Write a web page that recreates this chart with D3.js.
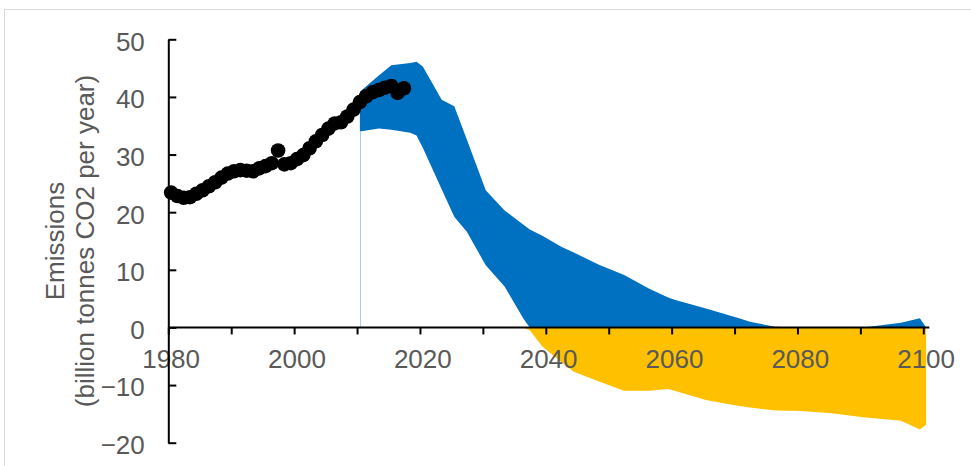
<!DOCTYPE html>
<html>
<head>
<meta charset="utf-8">
<script src="https://cdn.jsdelivr.net/npm/d3@7"></script>
<style>
  html, body { margin: 0; padding: 0; background: #fff; }
  svg { display: block; font-family: "Liberation Sans", Arial, sans-serif; }
</style>
</head>
<body>
<svg id="chart" width="971" height="466"></svg>
<script>
// Historical global CO2 emissions (billion tonnes CO2 per year)
const histYears = [1980,1981,1982,1983,1984,1985,1986,1987,1988,1989,
                   1990,1991,1992,1993,1994,1995,1996,1997,1998,1999,
                   2000,2001,2002,2003,2004,2005,2006,2007,2008,2009,
                   2010,2011,2012,2013,2014,2015,2016,2017];
const histValues = [23.4,22.8,22.5,22.6,23.2,23.8,24.5,25.2,26.0,26.7,
                    27.1,27.3,27.2,27.1,27.6,28.0,28.5,30.7,28.3,28.5,
                    29.2,29.9,31.1,32.3,33.4,34.5,35.4,35.6,36.6,37.8,
                    39.1,40.1,40.8,41.2,41.6,41.9,40.7,41.5];

// Scenario range: upper and lower bounds of the emission pathways
const bandYears = [2010,2013,2015,2018,2019,2020,2023,2025,2027,2030,
                   2033,2036,2037,2039,2042,2044,2048,2052,2056,2059,
                   2060,2065,2070,2072,2076,2080,2085,2090,2096,2099,2100];
const bandUpper = [40.9,43.7,45.5,45.9,46.1,45.3,39.5,38.4,32.6,23.8,
                   20.3,17.8,17.0,15.9,14.0,13.0,10.9,9.1,6.7,5.2,
                   4.8,3.3,1.7,1.0,0.1,0,0,0,0.8,1.6,0];
const bandLower = [34.0,34.5,34.3,33.8,33.3,31.2,24.0,19.2,16.6,10.8,
                   7.1,1.5,-0.5,-3.3,-6.0,-7.7,-9.4,-11.0,-11.0,-10.7,
                   -11.0,-12.6,-13.6,-13.9,-14.4,-14.5,-14.9,-15.6,-16.2,-17.7,-16.9];

// Axis ticks
const xTicks = [1980,1990,2000,2010,2020,2030,2040,2050,2060,2070,2080,2090,2100];
const xLabels = [1980,2000,2020,2040,2060,2080,2100];
const yTicks = [-20,-10,0,10,20,30,40,50];

const yTitle = ["Emissions", "(billion tonnes CO2 per year)"];

const svg = d3.select("#chart");
const textColor = "#595959";
const fontSize = 26;

// Scales
const x = d3.scaleLinear().domain([1980, 2100]).range([168.3, 923.3]);
const y = d3.scaleLinear().domain([-20, 50]).range([442.7, 39.3]);
// category points sit slightly right of their tick marks
const shift = 0.45;
const xp = yr => x(yr + shift);

// Outer frame
svg.append("rect")
  .attr("x", 4.5).attr("y", 9.5)
  .attr("width", 1000).attr("height", 1000)
  .attr("fill", "none").attr("stroke", "#d9d9d9").attr("stroke-width", 1);

const band = bandYears.map((yr, i) => ({ yr, hi: bandUpper[i], lo: bandLower[i] }));

// Positive part of the range (blue)
const posArea = d3.area()
  .x(d => xp(d.yr))
  .y0(d => y(Math.max(d.lo, 0)))
  .y1(d => y(Math.max(d.hi, 0)));
svg.append("path").datum(band).attr("d", posArea).attr("fill", "#0070C0");

// Negative part of the range (yellow)
const negArea = d3.area()
  .x(d => xp(d.yr))
  .y0(d => y(Math.min(d.hi, 0)))
  .y1(d => y(Math.min(d.lo, 0)));
svg.append("path").datum(band).attr("d", negArea).attr("fill", "#FFC000");

// Thin edge of the transparent base series at the start of the range
const edgeX = Math.round(xp(bandYears[0])) + 0.5;
svg.append("line")
  .attr("x1", edgeX).attr("x2", edgeX)
  .attr("y1", y(0)).attr("y2", y(bandLower[0]))
  .attr("stroke", "#A7CDEF").attr("stroke-width", 1);

// X tick labels
svg.append("g").selectAll("text").data(xLabels).join("text")
  .attr("x", d => xp(d))
  .attr("y", y(0) + 41)
  .attr("text-anchor", "middle")
  .attr("fill", textColor)
  .attr("font-size", fontSize)
  .text(d => d);

// X axis (ticks only)
const xAxis = svg.append("g")
  .attr("transform", `translate(0,${y(0)})`)
  .call(d3.axisBottom(x).tickValues(xTicks).tickSizeInner(7).tickSizeOuter(0).tickFormat(""));
xAxis.select(".domain").attr("d", `M${x(1980)},0H${x(2100) + 6}`);

// Y axis with ticks pointing into the plot
const yAxis = svg.append("g")
  .attr("transform", `translate(${x(1980)},0)`)
  .call(d3.axisLeft(y).tickValues(yTicks).tickSizeInner(-8).tickSizeOuter(0).tickPadding(23.5));
yAxis.selectAll("text")
  .attr("fill", textColor)
  .attr("font-size", fontSize)
  .attr("font-family", "Liberation Sans, Arial, sans-serif")
  .attr("dy", "0.42em");

[xAxis, yAxis].forEach(g => {
  g.selectAll(".domain").attr("stroke", "#000").attr("stroke-width", 2);
  g.selectAll(".tick line").attr("stroke", "#000").attr("stroke-width", 2);
});

// Historical emissions
svg.append("g").selectAll("circle").data(histYears).join("circle")
  .attr("cx", (d) => xp(d))
  .attr("cy", (d, i) => y(histValues[i]))
  .attr("r", 7.3)
  .attr("fill", "#000");

// Y axis title
svg.append("g").selectAll("text").data(yTitle).join("text")
  .attr("transform", (d, i) => `translate(${63.5 + i * 30},241) rotate(-90)`)
  .attr("text-anchor", "middle")
  .attr("fill", textColor)
  .attr("font-size", fontSize)
  .text(d => d);
</script>
</body>
</html>
